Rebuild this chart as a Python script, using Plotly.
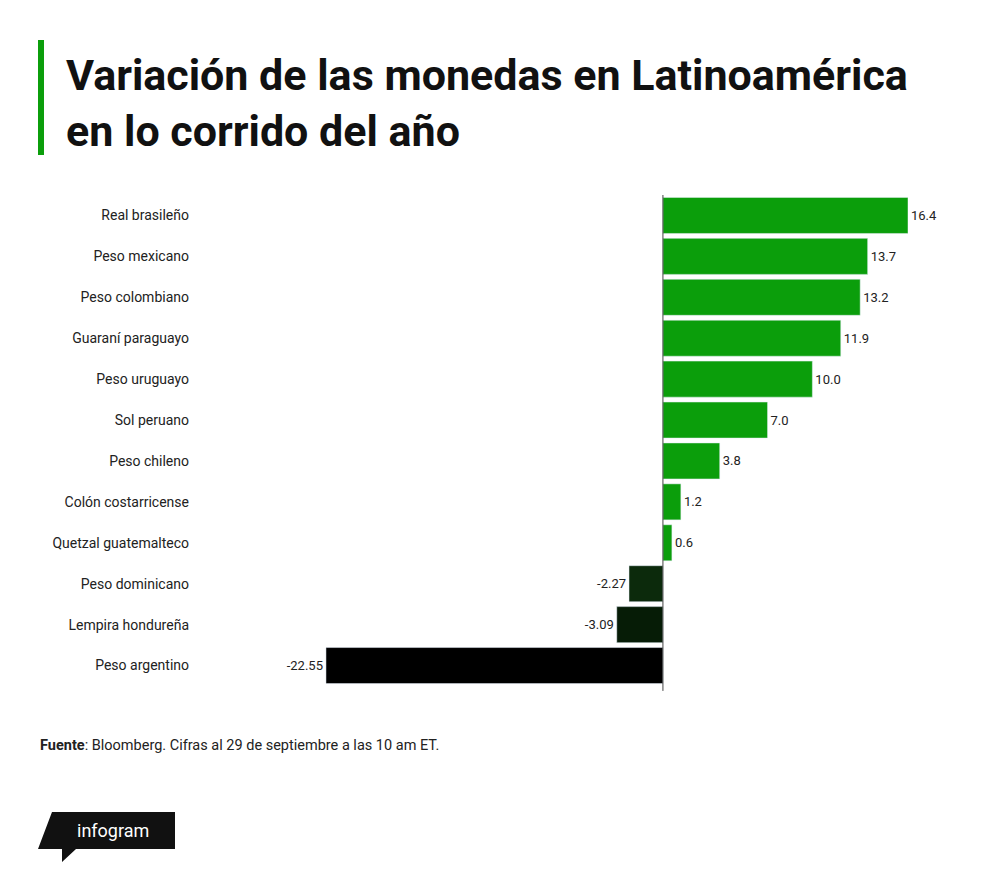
import plotly.graph_objects as go

monedas = ["Real brasileño", "Peso mexicano", "Peso colombiano", "Guaraní paraguayo",
           "Peso uruguayo", "Sol peruano", "Peso chileno", "Colón costarricense",
           "Quetzal guatemalteco", "Peso dominicano", "Lempira hondureña", "Peso argentino"]
variacion = [16.4, 13.7, 13.2, 11.9, 10.0, 7.0, 3.8, 1.2, 0.6, -2.27, -3.09, -22.55]
etiquetas = ["16.4", "13.7", "13.2", "11.9", "10.0", "7.0", "3.8", "1.2", "0.6",
             "-2.27", "-3.09", "-22.55"]
colores = ["#0b9e0b"] * 9 + ["#0c2a0c", "#061c06", "#000000"]

# la página se dibuja desplazada 8px: todo en píxeles de figura
OFF = 8
L, R, T, B = 200 - OFF, 908 - OFF, 195 - OFF, 686 - OFF
W, H = 1000, 881

def px(x, y):
    x, y = x - OFF, y - OFF
    return (x - L) / (R - L), (B - y) / (B - T)

fig = go.Figure(go.Bar(
    y=monedas, x=variacion, orientation="h", marker_color=colores, width=0.88,
    text=etiquetas, textposition="outside", cliponaxis=False,
    textfont=dict(size=13, color="#222"), hoverinfo="skip"))

# logo infogram
pts = [(38, 849), (52, 812), (175, 812), (175, 849), (76, 849), (62, 862), (62, 849)]
path = "M " + " L ".join(f"{px(a, b)[0]},{px(a, b)[1]}" for a, b in pts) + " Z"

fig.update_layout(
    width=W, height=H, plot_bgcolor="white", paper_bgcolor="white",
    margin=dict(l=L, r=W - R, t=T, b=H - B),
    font=dict(family="Roboto", color="#222"),
    showlegend=False,
    xaxis=dict(range=[-30.98, 16.4], visible=False, fixedrange=True),
    yaxis=dict(autorange="reversed", showgrid=False, ticks="", ticklabelstandoff=10,
               tickfont=dict(size=14, color="#222")),
    shapes=[
        dict(type="line", xref="x", yref="paper", x0=0, x1=0, y0=-0.01, y1=1.0,
             line=dict(color="#444", width=1)),
        dict(type="rect", xref="paper", yref="paper",
             x0=px(38, 0)[0], x1=px(44, 0)[0], y0=px(0, 155)[1], y1=px(0, 40)[1],
             fillcolor="#0b9e0b", line_width=0),
        dict(type="path", xref="paper", yref="paper", path=path,
             fillcolor="#111", line_width=0),
    ],
    annotations=[
        dict(text="<b>Variación de las monedas en Latinoamérica<br>en lo corrido del año</b>",
             xref="paper", yref="paper", x=px(64, 0)[0], y=px(0, 48)[1],
             xanchor="left", yanchor="top", align="left", showarrow=False,
             font=dict(size=43, color="#111", family="Roboto")),
        dict(text="<b>Fuente</b>: Bloomberg. Cifras al 29 de septiembre a las 10 am ET.",
             xref="paper", yref="paper", x=px(38, 0)[0], y=px(0, 745)[1],
             xanchor="left", yanchor="middle", showarrow=False,
             font=dict(size=14.5, color="#222")),
        dict(text="infogram", xref="paper", yref="paper", x=px(113, 0)[0], y=px(0, 830)[1],
             xanchor="center", yanchor="middle", showarrow=False,
             font=dict(size=18, color="white", family="Roboto")),
    ],
)

fig.write_html("out.html")
